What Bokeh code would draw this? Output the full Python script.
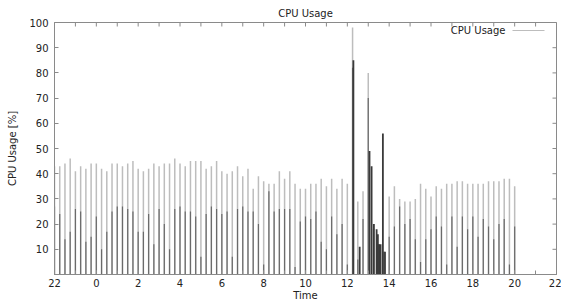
import numpy as np
from bokeh.plotting import figure
from bokeh.models import (ColumnDataSource, FixedTicker, Label, Arrow, Range1d)
from bokeh.embed import file_html
from bokeh.resources import INLINE

# x axis: hours after 22:00 of the first day
tick_hours = [0, 2, 4, 6, 8, 10, 12, 14, 16, 18, 20, 22, 24]
tick_labels = ["22", "0", "2", "4", "6", "8", "10", "12", "14", "16", "18", "20", "22"]
minor_hours = list(range(0, 25))
y_ticks = [10, 20, 30, 40, 50, 60, 70, 80, 90, 100]

# one sample every 15 minutes, from 22:00 to 20:00
sample_start = 0.0
sample_step = 0.25

# highest value in each 15-minute sample (light impulses)
cpu_peak = [43, 43, 44, 46, 41, 43, 42, 44, 44, 42, 41, 44, 44, 43, 44, 45, 42, 41,
            42, 44, 43, 44, 44, 46, 44, 43, 45, 45, 45, 42, 43, 45, 41, 40, 41, 43, 39,
            42, 34, 39, 37, 36, 36, 41, 38, 41, 36, 34, 34, 36, 36, 38, 35, 38, 34,
            38, 36, 98, 29, 33, 80, 20, 12, 9,
            31, 35, 30, 29, 29, 30, 36, 34, 31,
            35, 34, 36, 36, 37, 37, 36, 36, 36, 36, 37, 37, 37, 38, 38, 35]

# typical (lower) value in each sample (darker impulses)
cpu_base = [27, 24, 14, 17, 26, 25, 13, 15, 23, 10, 17, 25, 27, 27, 26, 25, 17, 17,
            24, 12, 26, 20, 10, 26, 27, 25, 25, 23, 7, 24, 27, 26, 24, 25, 7, 26, 27,
            25, 25, 20, 4, 33, 25, 26, 26, 26, 3, 21, 23, 22, 25, 13, 10, 23, 16,
            20, 4, 82, 6, 22, 70, 18, 12, 9,
            15, 19, 27, 20, 22, 14, 5, 14, 18,
            23, 19, 4, 23, 11, 23, 18, 23, 15, 22, 19, 14, 20, 22, 4, 19]

# extra samples during the load burst around 12:00-14:00
burst_time = [14.29, 14.59, 15.06, 15.16, 15.27, 15.40, 15.46, 15.52, 15.59, 15.70, 15.80]
burst_value = [85, 11, 49, 43, 20, 18, 16, 12, 12, 56, 9]

times = [sample_start + i * sample_step for i in range(len(cpu_peak))]

src = ColumnDataSource(dict(t=times, peak=cpu_peak, base=cpu_base, zero=[0] * len(times)))
bsrc = ColumnDataSource(dict(t=burst_time, v=burst_value, zero=[0] * len(burst_time)))

FONT = "DejaVu Sans"
TXT = "#222222"
AX = "#8a8a8a"

p = figure(width=561, height=303, output_backend="svg", toolbar_location=None,
           x_range=Range1d(0, 24), y_range=Range1d(0, 100),
           min_border_left=54, min_border_right=5, min_border_top=22, min_border_bottom=28,
           title="CPU Usage")
p.title.align = "center"
p.title.text_font = FONT
p.title.text_font_size = "10px"
p.title.text_font_style = "normal"
p.title.text_color = TXT
p.title.standoff = 8
p.title.offset = 0

p.xgrid.visible = False
p.ygrid.visible = False
p.outline_line_color = AX
p.background_fill_color = "white"
p.border_fill_color = "white"

p.segment(x0="t", y0="zero", x1="t", y1="peak", source=src,
          line_color="#bdbdbd", line_width=1.5)
p.segment(x0="t", y0="zero", x1="t", y1="base", source=src,
          line_color="#6a6a6a", line_width=1.2)
p.segment(x0="t", y0="zero", x1="t", y1="v", source=bsrc,
          line_color="#3a3a3a", line_width=1.8)

# mirrored inward ticks on the top and right borders
p.scatter(x=minor_hours, y=[100] * len(minor_hours), marker="dash", angle=np.pi / 2,
          size=8, line_color=AX, line_width=1)
p.scatter(x=[24] * len(y_ticks), y=y_ticks, marker="dash", angle=0,
          size=8, line_color=AX, line_width=1)

xa = p.xaxis[0]
xa.ticker = FixedTicker(ticks=tick_hours, minor_ticks=minor_hours)
xa.major_label_overrides = {h: lab for h, lab in zip(tick_hours, tick_labels)}
xa.axis_label = "Time"
ya = p.yaxis[0]
ya.ticker = FixedTicker(ticks=y_ticks)
ya.axis_label = "CPU Usage [%]"

for ax in (xa, ya):
    ax.axis_line_color = AX
    ax.major_tick_line_color = AX
    ax.minor_tick_line_color = AX
    ax.major_tick_in = 4
    ax.major_tick_out = 0
    ax.minor_tick_in = 4
    ax.minor_tick_out = 0
    ax.major_label_text_font = FONT
    ax.major_label_text_font_size = "10px"
    ax.major_label_text_color = TXT
    ax.axis_label_text_font = FONT
    ax.axis_label_text_font_size = "10px"
    ax.axis_label_text_font_style = "normal"
    ax.axis_label_text_color = TXT
xa.major_label_standoff = 4
xa.axis_label_standoff = 0
ya.major_label_standoff = 6
ya.axis_label_standoff = 8
ya.minor_tick_line_color = None

# legend key (gnuplot style: text then line sample), in screen units of the frame
key_y = 244
p.add_layout(Label(x=451, y=key_y, x_units="screen", y_units="screen",
                   text="CPU Usage", text_align="right", text_baseline="middle",
                   text_font=FONT, text_font_size="10px", text_color=TXT))
p.add_layout(Arrow(end=None, x_start=458, y_start=key_y, x_end=490, y_end=key_y,
                   start_units="screen", end_units="screen",
                   line_color="#bdbdbd", line_width=1.2))

open("out.html", "w").write(file_html(p, INLINE))
